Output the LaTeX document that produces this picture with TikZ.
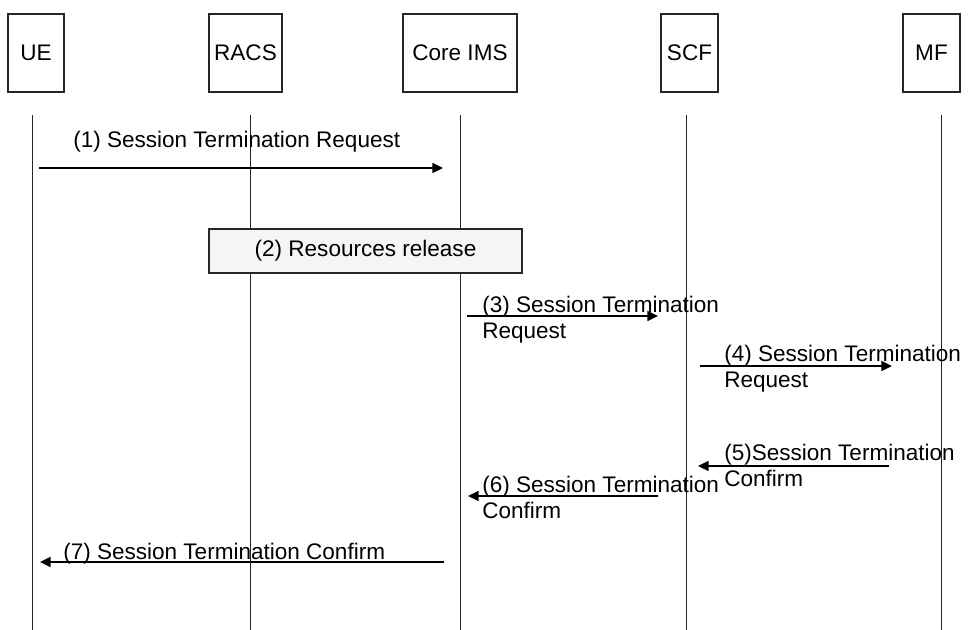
\documentclass[tikz,border=0pt]{standalone}
\usepackage{fontspec}
\setmainfont{Liberation Sans}
\usetikzlibrary{arrows.meta}
\tikzset{
  entity/.style={draw=black!85, line width=0.8pt, minimum height=58.5pt, inner sep=0pt, font=\fontsize{16.9}{20.2}\selectfont},
  lifeline/.style={line width=0.75pt, draw=black!85},
  msg/.style={line width=1.1pt, -{Triangle[length=8pt,width=7.5pt]}},
  lbl/.style={anchor=base west, inner sep=0pt, align=left, font=\fontsize{16.9}{20.2}\selectfont},
  action/.style={draw=black!85, fill=black!4, line width=0.8pt, minimum width=234.75pt, minimum height=33pt, inner sep=0pt, font=\fontsize{16.9}{20.2}\selectfont}
}
\begin{document}
\begin{tikzpicture}[x=0.75pt, y=-0.75pt]
\useasboundingbox (0,0) rectangle (972,630);
% entities
\node[entity, minimum width=42pt] (ue) at (36,53) {UE};
\node[entity, minimum width=54.75pt] (racs) at (245.5,53) {RACS};
\node[entity, minimum width=85.5pt] (ims) at (460,53) {Core IMS};
\node[entity, minimum width=42.75pt] (scf) at (689.5,53) {SCF};
\node[entity, minimum width=42.75pt] (mf) at (931.5,53) {MF};
% lifelines
\coordinate (ueT) at (32,115);   \coordinate (ueB) at (32,632);
\coordinate (racsT) at (250,115); \coordinate (racsB) at (250,632);
\coordinate (imsT) at (460,115); \coordinate (imsB) at (460,632);
\coordinate (scfT) at (686,115); \coordinate (scfB) at (686,632);
\coordinate (mfT) at (941,115);  \coordinate (mfB) at (941,632);
\draw[lifeline] (ueT) -- (ueB);
\draw[lifeline] (racsT) -- (racsB);
\draw[lifeline] (imsT) -- (imsB);
\draw[lifeline] (scfT) -- (scfB);
\draw[lifeline] (mfT) -- (mfB);
% (1)
\coordinate (m1s) at (39,168); \coordinate (m1e) at (443,168);
\draw[msg] (m1s) -- (m1e);
\node[lbl] (l1) at (73,148) {(1) Session Termination Request};
% (2)
\node[action] (rr) at (365.5,251) {(2) Resources release};
% (3)
\coordinate (m3s) at (467,316); \coordinate (m3e) at (658,316);
\draw[msg] (m3s) -- (m3e);
\node[lbl] (l3) at (482,339) {(3) Session Termination\\Request};
% (4)
\coordinate (m4s) at (700,366); \coordinate (m4e) at (892,366);
\draw[msg] (m4s) -- (m4e);
\node[lbl] (l4) at (724,388) {(4) Session Termination\\Request};
% (5)
\coordinate (m5s) at (889,466); \coordinate (m5e) at (698,466);
\draw[msg] (m5s) -- (m5e);
\node[lbl] (l5) at (724,487) {(5)Session Termination\\Confirm};
% (6)
\coordinate (m6s) at (658,496); \coordinate (m6e) at (468,496);
\draw[msg] (m6s) -- (m6e);
\node[lbl] (l6) at (482,519) {(6) Session Termination\\Confirm};
% (7)
\coordinate (m7s) at (444,562); \coordinate (m7e) at (40,562);
\draw[msg] (m7s) -- (m7e);
\node[lbl] (l7) at (63,560) {(7) Session Termination Confirm};
\end{tikzpicture}
\end{document}
